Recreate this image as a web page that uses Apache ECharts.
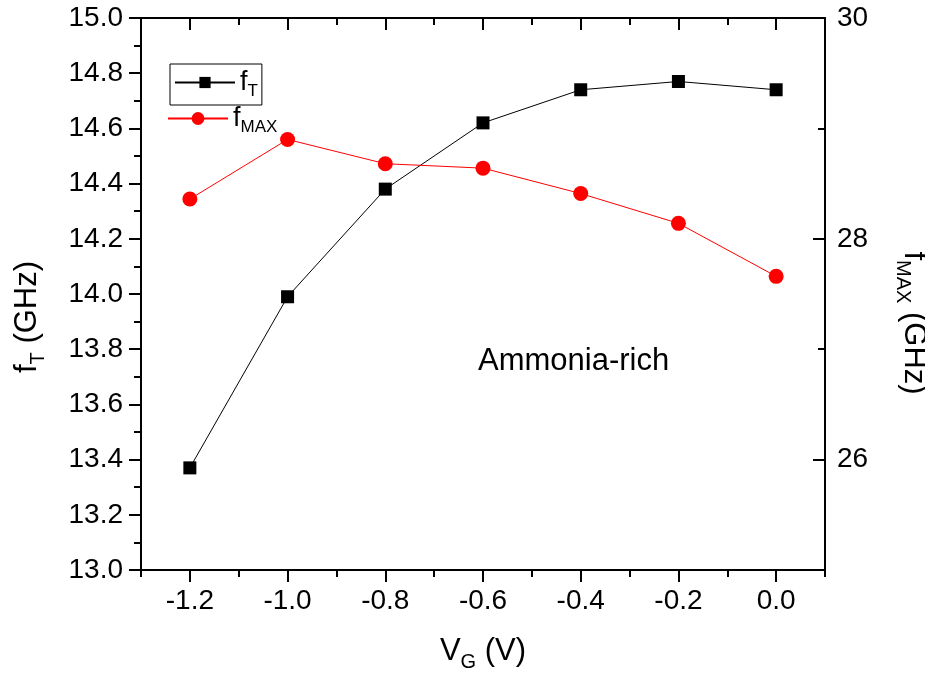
<!DOCTYPE html>
<html>
<head>
<meta charset="utf-8">
<script src="https://cdn.jsdelivr.net/npm/echarts@6/dist/echarts.min.js"></script>
<style>html,body{margin:0;padding:0;background:#fff;}#c{width:925px;height:683px;}</style>
</head>
<body>
<div id="c"></div>
<script>
const vg = [-1.2, -1.0, -0.8, -0.6, -0.4, -0.2, 0.0];
const fT = [13.37, 13.99, 14.38, 14.62, 14.74, 14.77, 14.74];
const fMAX = [28.36, 28.90, 28.68, 28.64, 28.41, 28.14, 27.66];
const xMajorTicks = [-1.2, -1.0, -0.8, -0.6, -0.4, -0.2, 0.0];
const xMinorTicks = [-1.3, -1.1, -0.9, -0.7, -0.5, -0.3, -0.1, 0.1];
const rightMajorTicks = [26, 28, 30];
const rightMinorTicks = [25, 27, 29];
const annotation = 'Ammonia-rich';

const FONT = 'Liberation Sans, Arial, sans-serif';
const chart = echarts.init(document.getElementById('c'));
const axisLine = {show: true, onZero: false, lineStyle: {color: '#000', width: 2}};
const noLine = {show: false, onZero: false};
const labelStyle = {color: '#000', fontSize: 28, fontFamily: FONT};
const titleRich = {
  a: {fontSize: 31, fontFamily: FONT, color: '#000'},
  b: {fontSize: 20, fontFamily: FONT, color: '#000', padding: [22, 0, 0, 0]}
};
const legendRich = {
  f: {fontSize: 27, fontFamily: FONT, color: '#000'},
  s: {fontSize: 17, fontFamily: FONT, color: '#000', padding: [18, 0, 0, 0]}
};

chart.setOption({
  animation: false,
  backgroundColor: '#fff',
  grid: {left: 141, right: 100, top: 18, bottom: 113, containLabel: false, outerBoundsMode: 'none'},
  legend: [
    {
      data: ['fT'], left: 170, top: 64, orient: 'vertical',
      borderColor: '#000', borderWidth: 1, borderRadius: 0, padding: [5, 4, 5, 4],
      itemWidth: 60, itemHeight: 14, itemGap: 6,
      formatter: () => '{f|f}{s|T}',
      textStyle: {color: '#000', fontFamily: FONT, rich: legendRich}
    },
    {
      data: ['fMAX'], left: 163, top: 100, orient: 'vertical',
      borderWidth: 0, padding: [5, 4, 5, 4],
      itemWidth: 60, itemHeight: 16, itemGap: 6,
      formatter: () => '{f|f}{s|MAX}',
      textStyle: {color: '#000', fontFamily: FONT, rich: legendRich}
    }
  ],
  xAxis: [
    {
      type: 'value', position: 'bottom', min: -1.3, max: 0.1,
      axisLine: axisLine, splitLine: {show: false},
      axisTick: {show: true, inside: false, length: 12, customValues: xMajorTicks, lineStyle: {color: '#000', width: 2}},
      axisLabel: {show: true, customValues: xMajorTicks, margin: 17, formatter: v => v.toFixed(1), ...labelStyle},
      name: '{a|V}{b|G}{a| (V)}', nameLocation: 'middle', nameGap: 60,
      nameTextStyle: {rich: titleRich}
    },
    {
      type: 'value', position: 'bottom', min: -1.3, max: 0.1,
      axisLine: noLine, splitLine: {show: false},
      axisTick: {show: true, inside: false, length: 7, customValues: xMinorTicks, lineStyle: {color: '#000', width: 2}},
      axisLabel: {show: false}
    },
    {
      type: 'value', position: 'top', min: -1.3, max: 0.1,
      axisLine: axisLine, splitLine: {show: false},
      axisTick: {show: true, inside: true, length: 12, customValues: xMajorTicks, lineStyle: {color: '#000', width: 2}},
      axisLabel: {show: false}
    },
    {
      type: 'value', position: 'top', min: -1.3, max: 0.1,
      axisLine: noLine, splitLine: {show: false},
      axisTick: {show: true, inside: true, length: 7, customValues: xMinorTicks, lineStyle: {color: '#000', width: 2}},
      axisLabel: {show: false}
    }
  ],
  yAxis: [
    {
      type: 'value', position: 'left', min: 13, max: 15, interval: 0.2,
      axisLine: axisLine, splitLine: {show: false},
      axisTick: {show: true, inside: false, length: 12, lineStyle: {color: '#000', width: 2}},
      minorTick: {show: true, splitNumber: 2, length: 7, lineStyle: {color: '#000', width: 2}},
      axisLabel: {show: true, margin: 18, formatter: v => v.toFixed(1), ...labelStyle},
      name: '{a|f}{b|T}{a| (GHz)}', nameLocation: 'middle', nameGap: 93, nameRotate: 90,
      nameTextStyle: {rich: titleRich, padding: [0, 46, 0, 0]}
    },
    {
      type: 'value', position: 'right', min: 25, max: 30,
      axisLine: axisLine, splitLine: {show: false},
      axisTick: {show: true, inside: true, length: 12, customValues: rightMajorTicks, lineStyle: {color: '#000', width: 2}},
      axisLabel: {show: true, customValues: rightMajorTicks, margin: 12, ...labelStyle},
      name: '{a|f}{b|MAX}{a| (GHz)}', nameLocation: 'middle', nameGap: 68, nameRotate: -90,
      nameTextStyle: {rich: titleRich, padding: [0, 0, 0, 58]}
    },
    {
      type: 'value', position: 'right', min: 25, max: 30,
      axisLine: noLine, splitLine: {show: false},
      axisTick: {show: true, inside: true, length: 7, customValues: rightMinorTicks, lineStyle: {color: '#000', width: 2}},
      axisLabel: {show: false}
    }
  ],
  graphic: [
    {type: 'text', left: 478, top: 346, style: {text: annotation, fontSize: 31, fontFamily: FONT, fill: '#000'}}
  ],
  series: [
    {
      name: 'fT', type: 'line', xAxisIndex: 0, yAxisIndex: 0,
      data: vg.map((x, i) => [x, fT[i]]),
      symbol: 'rect', symbolSize: 13,
      itemStyle: {color: '#000'}, lineStyle: {color: '#000', width: 1}
    },
    {
      name: 'fMAX', type: 'line', xAxisIndex: 0, yAxisIndex: 1,
      data: vg.map((x, i) => [x, fMAX[i]]),
      symbol: 'circle', symbolSize: 15,
      itemStyle: {color: '#ff0000'}, lineStyle: {color: '#ff0000', width: 1}
    }
  ]
});
</script>
</body>
</html>
